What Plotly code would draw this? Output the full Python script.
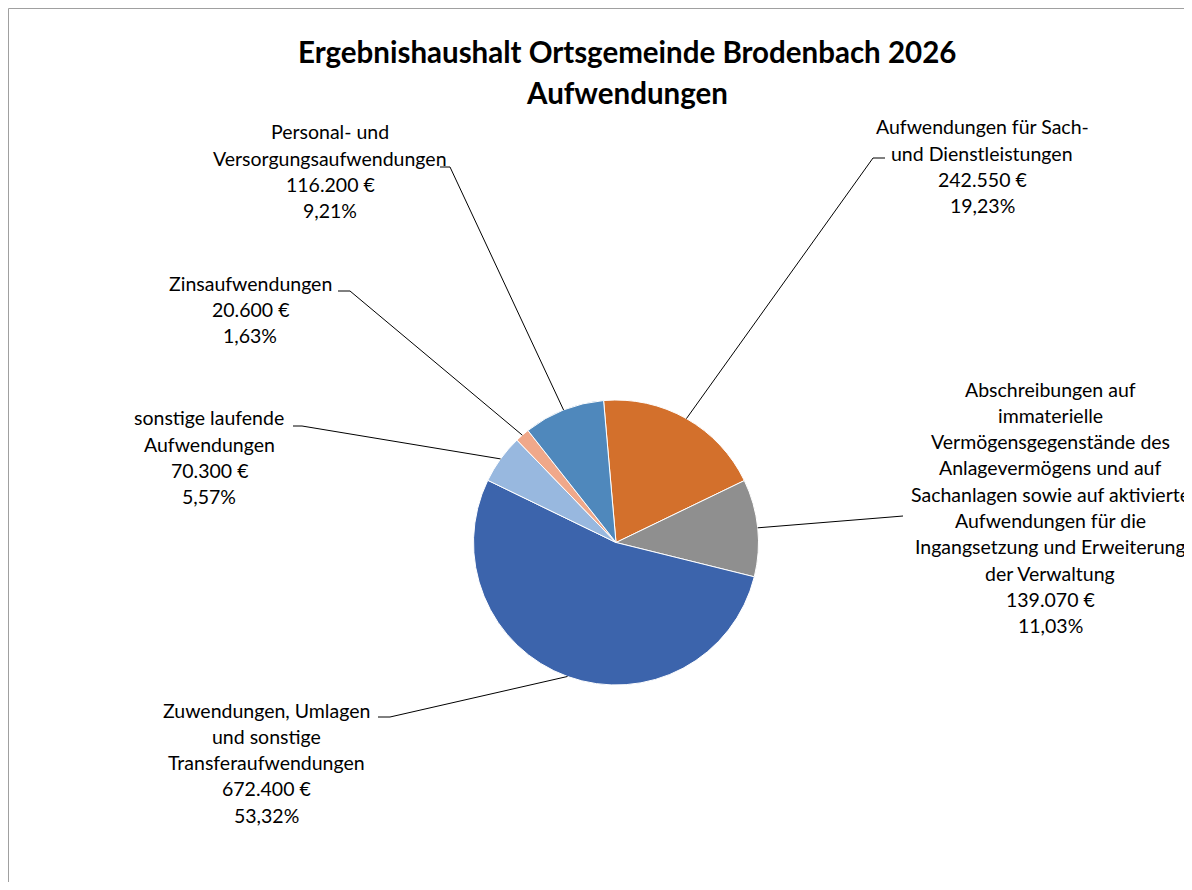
import math
import plotly.graph_objects as go

# ---------------- data ----------------
categories = [
    "Aufwendungen für Sach- und Dienstleistungen",
    "Abschreibungen auf immaterielle Vermögensgegenstände des Anlagevermögens und auf Sachanlagen sowie auf aktivierte Aufwendungen für die Ingangsetzung und Erweiterung der Verwaltung",
    "Zuwendungen, Umlagen und sonstige Transferaufwendungen",
    "sonstige laufende Aufwendungen",
    "Zinsaufwendungen",
    "Personal- und Versorgungsaufwendungen",
]
label_lines = [
    ["Aufwendungen für Sach-", "und Dienstleistungen"],
    ["Abschreibungen auf", "immaterielle", "Vermögensgegenstände des",
     "Anlagevermögens und auf", "Sachanlagen sowie auf aktivierte",
     "Aufwendungen für die", "Ingangsetzung und Erweiterung", "der Verwaltung"],
    ["Zuwendungen, Umlagen", "und sonstige", "Transferaufwendungen"],
    ["sonstige laufende", "Aufwendungen"],
    ["Zinsaufwendungen"],
    ["Personal- und", "Versorgungsaufwendungen"],
]
values = [242550, 139070, 672400, 70300, 20600, 116200]
colors = ["#D3702C", "#8F8F8F", "#3C64AC", "#98B8DF", "#F0A88A", "#4F88BC"]
title_lines = ["Ergebnishaushalt Ortsgemeinde Brodenbach 2026", "Aufwendungen"]

# ---------------- layout helpers (page pixels) ----------------
W, H = 1184, 874
OFF = 8


def px(x):
    return (x - OFF) / W


def py(y):
    return 1 - (y - OFF) / H


CX, CY, R = 616, 542.5, 142.5
ROT = -5
LINE_H = 26.3

label_cx = [982, 1050, 266, 209, 250, 330]
label_y0 = [127, 389, 710, 418, 283, 132]
elbow = [(873, 158), (891, 517), (390, 717), (302, 426), (350, 291), (450, 167)]
tail = [(885, 158), (903, 516), (378, 717), (293, 426), (338, 291), (440, 167)]

FONT = "Lato"
total = sum(values)


def de_num(v):
    return f"{v:,}".replace(",", ".")


def de_pct(v):
    return f"{v * 100 / total:.2f}".replace(".", ",") + "%"


fig = go.Figure()
fig.add_trace(go.Pie(
    labels=categories,
    values=values,
    sort=False,
    direction="clockwise",
    rotation=ROT,
    marker=dict(colors=colors, line=dict(color="white", width=1)),
    textinfo="none",
    hoverinfo="label+value+percent",
    showlegend=False,
    domain=dict(x=[px(CX - R), px(CX + R)], y=[py(CY + R), py(CY - R)]),
))

annotations = []
for i, t in enumerate(title_lines):
    annotations.append(dict(
        text=f"<b>{t}</b>", x=px(627), y=py(52 + 40 * i), xref="paper", yref="paper",
        xanchor="center", yanchor="middle", showarrow=False,
        font=dict(family=FONT, size=29.5, color="#000000"),
    ))

shapes = []
cum = 0
for i, v in enumerate(values):
    lines = label_lines[i] + [de_num(v) + " €", de_pct(v)]
    for j, line in enumerate(lines):
        annotations.append(dict(
            text=line, x=px(label_cx[i]), y=py(label_y0[i] + LINE_H * j),
            xref="paper", yref="paper", xanchor="center", yanchor="middle",
            showarrow=False, font=dict(family=FONT, size=19.5, color="#000000"),
        ))
    mid = math.radians(ROT + (cum + v / 2) / total * 360)
    cum += v
    sx = CX + R * math.sin(mid)
    sy = CY - R * math.cos(mid)
    ex, ey = elbow[i]
    tx, ty = tail[i]
    shapes.append(dict(type="path", xref="paper", yref="paper",
                       path=f"M {px(sx)} {py(sy)} L {px(ex)} {py(ey)} L {px(tx)} {py(ty)}",
                       line=dict(color="#000000", width=1)))

# chart border
shapes.append(dict(type="rect", xref="paper", yref="paper",
                   x0=px(8.5), y0=py(1000), x1=px(1400), y1=py(8.5),
                   line=dict(color="#A0A0A0", width=1)))

fig.update_layout(
    width=W, height=H,
    margin=dict(l=0, r=0, t=0, b=0),
    paper_bgcolor="white",
    plot_bgcolor="white",
    annotations=annotations,
    shapes=shapes,
)

fig.write_html("out.html")
